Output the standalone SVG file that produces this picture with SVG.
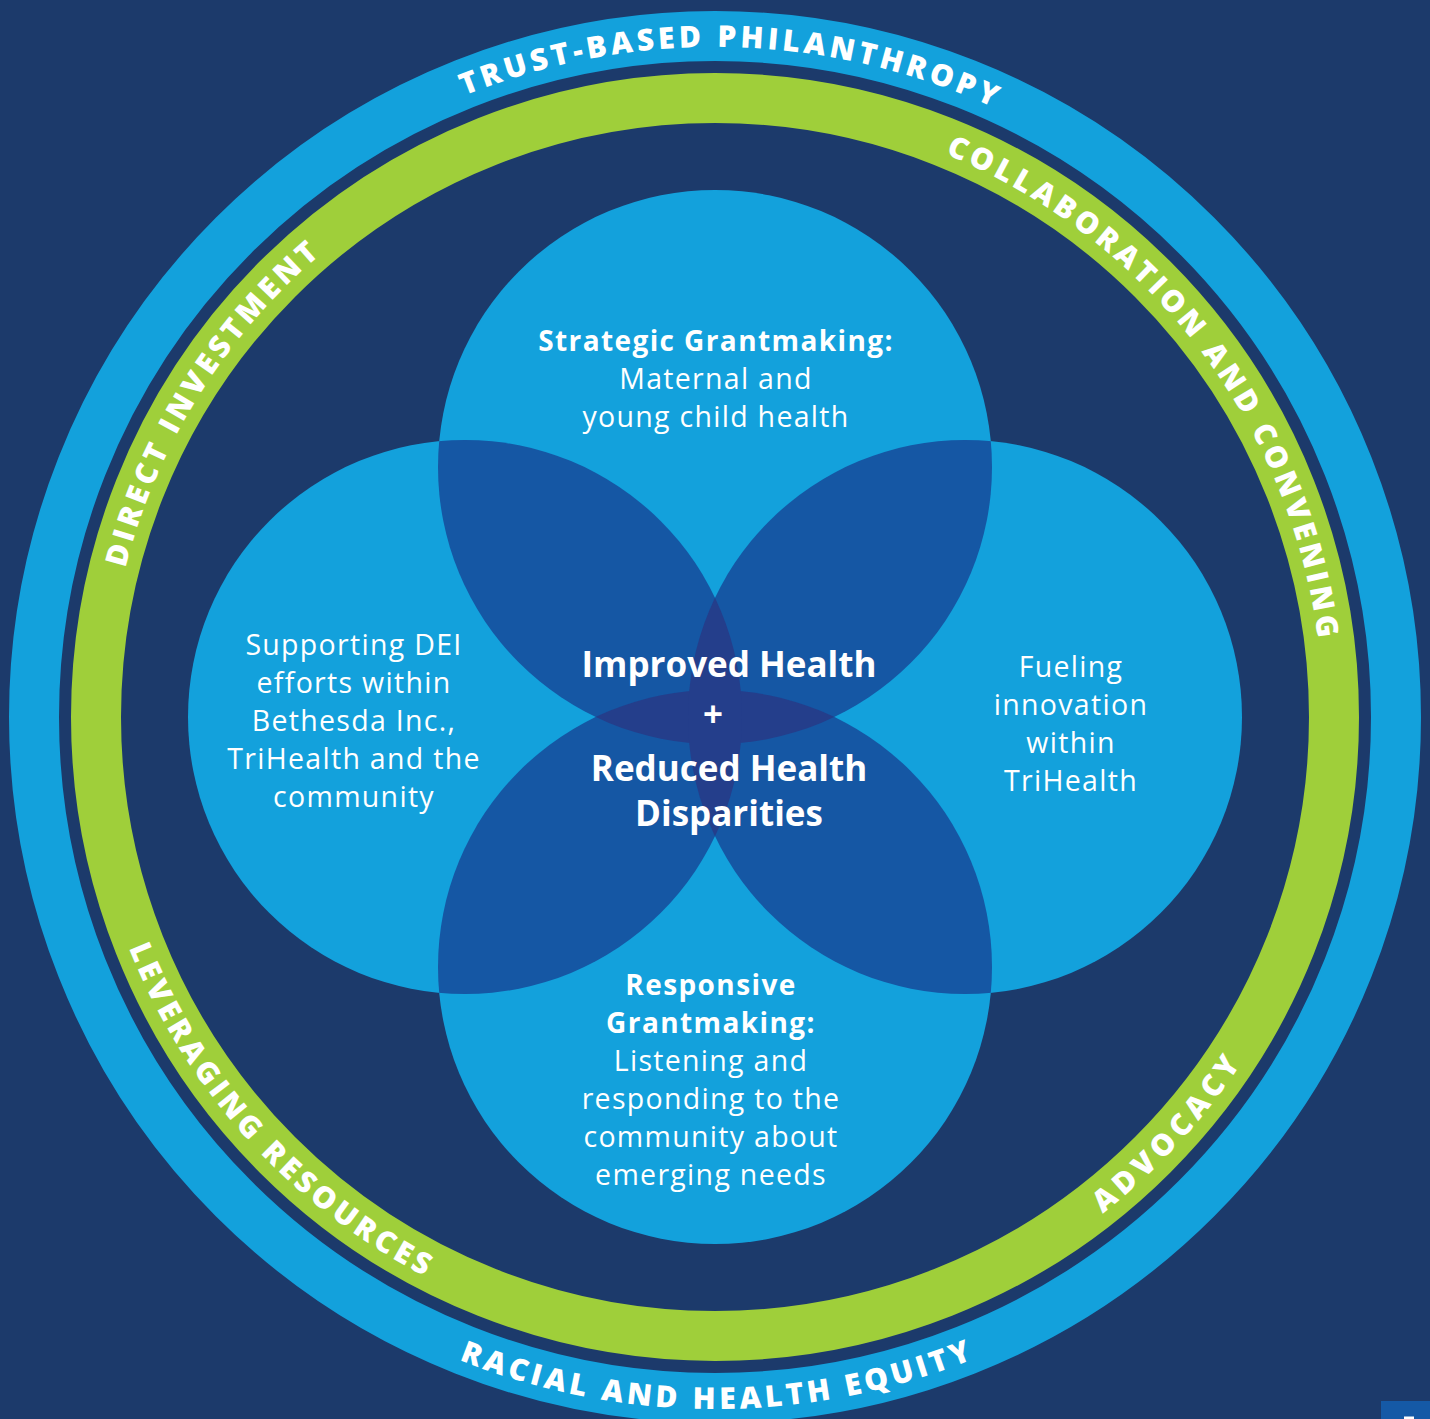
<svg xmlns="http://www.w3.org/2000/svg" width="1430" height="1419" viewBox="0 0 1430 1419">
  <style>
    .bg { fill: #1c3a6b; }
    .light { fill: #13a1dc; }
    .mid { fill: #1557a4; }
    .dark { fill: #243e8b; }
    .txt { font-family: "Open Sans", "Liberation Sans", sans-serif; fill: #ffffff; font-size: 28.5px; font-weight: 500; text-anchor: middle; letter-spacing: 1.3px; }
    .bold { font-weight: 700; letter-spacing: 1.4px; font-size: 28px; }
    .ctr { font-family: "Open Sans", "Liberation Sans", sans-serif; fill: #ffffff; font-size: 35px; font-weight: 700; text-anchor: middle; }
    .ring { font-family: "Open Sans", "Liberation Sans", sans-serif; fill: #ffffff; font-size: 30px; font-weight: 800; letter-spacing: 4px; text-anchor: middle; }
    .wide { letter-spacing: 5px; }
  </style>
  <defs>
    <clipPath id="cT"><circle cx="715" cy="467" r="277"/></clipPath>
    <clipPath id="cL"><circle cx="465" cy="717" r="277"/></clipPath>
    <clipPath id="cR"><circle cx="965" cy="717" r="277"/></clipPath>
    <clipPath id="cB"><circle cx="715" cy="967" r="277"/></clipPath>
    <path id="p-trust" d="M143.4,367.4 A670,670 0 0,1 1303.5,396.7"/>
    <path id="p-collab" d="M636.7,114 A608,608 0 0,1 1276.3,950.7"/>
    <path id="p-direct" d="M178.2,1002.5 A608,608 0 0,1 736.2,109.4"/>
    <path id="p-racial" d="M115.7,1063 A692,692 0 0,0 1314.3,1063"/>
    <path id="p-lever" d="M115.2,524.4 A630,630 0 0,0 848.1,1332.8"/>
    <path id="p-advoc" d="M578.7,1332.1 A630,630 0 0,0 1315.8,527.6"/>
  </defs>

  <rect class="bg" x="0" y="0" width="1430" height="1419"/>

  <g id="outer-ring">
    <circle cx="715" cy="717" r="681" fill="none" stroke="#13a1dc" stroke-width="50"/>
    <text class="ring"><textPath href="#p-trust" startOffset="50%">TRUST-BASED PHILANTHROPY</textPath></text>
    <text class="ring"><textPath href="#p-racial" startOffset="50.2%">RACIAL AND HEALTH EQUITY</textPath></text>
  </g>

  <g id="green-ring">
    <circle cx="715" cy="717" r="619" fill="none" stroke="#9fcf3a" stroke-width="50"/>
    <text class="ring"><textPath href="#p-collab" startOffset="50%">COLLABORATION AND CONVENING</textPath></text>
    <text class="ring"><textPath href="#p-direct" startOffset="50%">DIRECT INVESTMENT</textPath></text>
    <text class="ring"><textPath href="#p-lever" startOffset="50%">LEVERAGING RESOURCES</textPath></text>
    <text class="ring wide"><textPath href="#p-advoc" startOffset="50%">ADVOCACY</textPath></text>
  </g>

  <g id="circle-shapes">
    <circle class="light" cx="715" cy="467" r="277"/>
    <circle class="light" cx="465" cy="717" r="277"/>
    <circle class="light" cx="965" cy="717" r="277"/>
    <circle class="light" cx="715" cy="967" r="277"/>
    <circle class="mid" cx="465" cy="717" r="277" clip-path="url(#cT)"/>
    <circle class="mid" cx="965" cy="717" r="277" clip-path="url(#cT)"/>
    <circle class="mid" cx="465" cy="717" r="277" clip-path="url(#cB)"/>
    <circle class="mid" cx="965" cy="717" r="277" clip-path="url(#cB)"/>
    <circle class="dark" cx="715" cy="967" r="277" clip-path="url(#cT)"/>
    <circle class="dark" cx="965" cy="717" r="277" clip-path="url(#cL)"/>
  </g>

  <g id="node-strategic">
    <text class="txt bold" x="716" y="351">Strategic Grantmaking:</text>
    <text class="txt" x="716" y="389">Maternal and</text>
    <text class="txt" x="716" y="427">young child health</text>
  </g>

  <g id="node-dei">
    <text class="txt" x="354" y="655">Supporting DEI</text>
    <text class="txt" x="354" y="693">efforts within</text>
    <text class="txt" x="354" y="731">Bethesda Inc.,</text>
    <text class="txt" x="354" y="769">TriHealth and the</text>
    <text class="txt" x="354" y="807">community</text>
  </g>

  <g id="node-innovation">
    <text class="txt" x="1071" y="677">Fueling</text>
    <text class="txt" x="1071" y="715">innovation</text>
    <text class="txt" x="1071" y="753">within</text>
    <text class="txt" x="1071" y="791">TriHealth</text>
  </g>

  <g id="node-responsive">
    <text class="txt bold" x="711" y="995">Responsive</text>
    <text class="txt bold" x="711" y="1033">Grantmaking:</text>
    <text class="txt" x="711" y="1071">Listening and</text>
    <text class="txt" x="711" y="1109">responding to the</text>
    <text class="txt" x="711" y="1147">community about</text>
    <text class="txt" x="711" y="1185">emerging needs</text>
  </g>

  <g id="node-center">
    <text class="ctr" x="729" y="677">Improved Health</text>
    <text class="ctr" x="713" y="727">+</text>
    <text class="ctr" x="729" y="781">Reduced Health</text>
    <text class="ctr" x="729" y="826">Disparities</text>
  </g>

  <g id="page-tab">
    <rect x="1381" y="1401" width="49" height="18" fill="#1559a6"/>
    <rect x="1404" y="1416.5" width="10" height="2.5" fill="#ffffff"/>
  </g>
</svg>
